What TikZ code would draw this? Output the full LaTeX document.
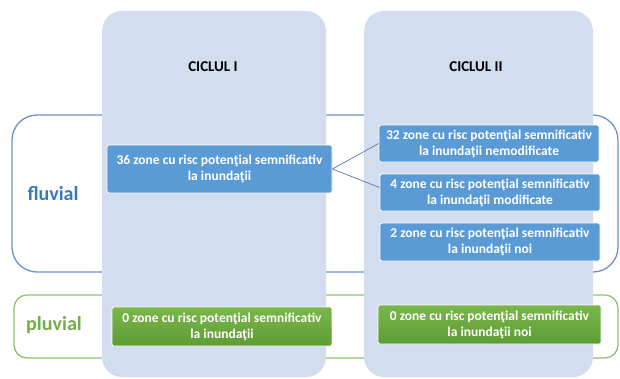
\documentclass[tikz,border=0pt]{standalone}
\usepackage{fontspec}
\setmainfont{Carlito}
\usepackage{tikz}
\usetikzlibrary{positioning}

\definecolor{colfill}{HTML}{D2DDEF}
\definecolor{boxblue}{HTML}{5B9BD5}
\definecolor{rimblue}{HTML}{6A8FD2}
\definecolor{txtblue}{HTML}{3A78BC}
\definecolor{boxgreenA}{HTML}{7AB64A}
\definecolor{boxgreenB}{HTML}{5E9C36}
\definecolor{rimgreen}{HTML}{8CC46C}
\definecolor{txtgreen}{HTML}{72AE48}
\definecolor{linkcol}{HTML}{5A7CA8}

\tikzset{
  zonebox/.style={fill=boxblue, draw=white, line width=0.8pt, rounded corners=2pt,
    text=white, font=\fontsize{13.5}{16}\selectfont\bfseries, align=center,
    inner sep=0pt, minimum width=220pt, minimum height=37pt},
  greenbox/.style={zonebox, fill=none, top color=boxgreenA, bottom color=boxgreenB,
    minimum height=39pt},
  ciclu/.style={fill=colfill, rounded corners=20pt},
  link/.style={draw=linkcol, line width=0.7pt}
}

\begin{document}
\begin{tikzpicture}[x=1pt,y=-1pt]
    \useasboundingbox (0,0) rectangle (620,378);
    % categories
    \draw [rimblue, line width=1.3pt, fill=white, rounded corners=25pt] (12,115) rectangle (618,272);
    \draw [rimgreen, line width=1.3pt, fill=white, rounded corners=13pt] (14,295) rectangle (618,358);
    \node (fluv) at (53,194) [text=txtblue, font=\fontsize{20}{20}\selectfont\bfseries] {fluvial};
    \node (pluv) at (54,325) [text=txtgreen, font=\fontsize{20}{20}\selectfont\bfseries] {pluvial};
    % cycles
    \fill [ciclu] (102,11) rectangle (326,377);
    \fill [ciclu] (364,11) rectangle (593,377);
    \node (c1) at (213,67) [font=\fontsize{15}{15}\selectfont\bfseries] {CICLUL I};
    \node (c2) at (476,67) [font=\fontsize{15}{15}\selectfont\bfseries] {CICLUL II};
    % zones
    \node (z36) at (219.5,169) [zonebox, minimum width=225pt, minimum height=48pt]
      {36 zone cu risc poten\c{t}ial semnificativ\\la inunda\c{t}ii};
    \node (z32) at (489,143.5) [zonebox] {32 zone cu risc poten\c{t}ial semnificativ\\la inunda\c{t}ii nemodificate};
    \node (z4) at (490,192.5) [zonebox] {4 zone cu risc poten\c{t}ial semnificativ\\la inunda\c{t}ii modificate};
    \node (z2) at (490,242) [zonebox, minimum height=38pt] {2 zone cu risc poten\c{t}ial semnificativ\\la inunda\c{t}ii noi};
    \node (p1) at (222,326.5) [greenbox] {0 zone cu risc poten\c{t}ial semnificativ\\la inunda\c{t}ii};
    \node (p2) at (489.5,324.5) [greenbox, minimum width=223pt] {0 zone cu risc poten\c{t}ial semnificativ\\la inunda\c{t}ii noi};
    \draw [link] (z36.east) -- (z32.west);
    \draw [link] (z36.east) -- ([yshift=5pt]z4.west);
\end{tikzpicture}
\end{document}
